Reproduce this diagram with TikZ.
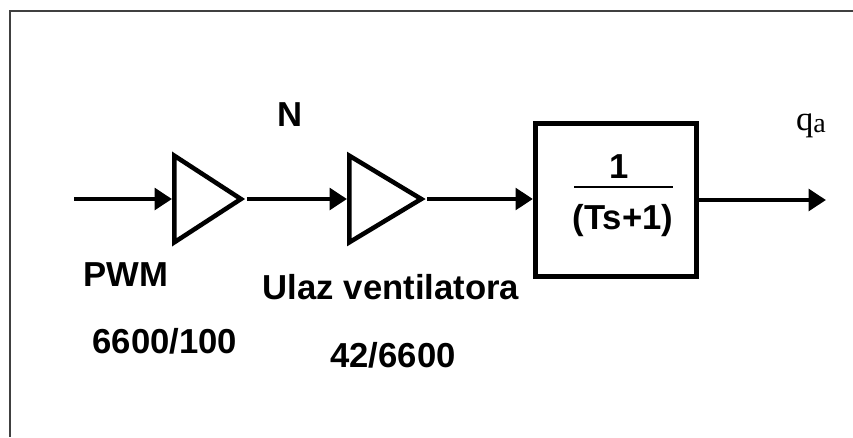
\documentclass[tikz,border=0pt]{standalone}
\usepackage{fontspec}
\setmainfont{Liberation Sans}
\newfontfamily\serifq{Liberation Serif}
\usetikzlibrary{positioning, shapes.geometric, arrows.meta}
\tikzset{
    gain/.style={
        isosceles triangle, isosceles triangle stretches, draw, line width=3.4pt,
        minimum width=65pt, minimum height=50pt, inner sep=0pt,
        anchor=west
    },
    box/.style={
        rectangle, draw, line width=3.6pt,
        minimum width=121pt, minimum height=115pt
    },
    mm/.style={
        line width=3.6pt, -{Triangle[length=13pt, width=16pt]}
    },
    lbl/.style={
        font=\fontsize{26}{31}\selectfont\bfseries, inner sep=0pt
    }
}

\begin{document}
\begin{tikzpicture}[x=0.75pt, y=-0.75pt]
        \useasboundingbox (0,0) rectangle (853,437);
        % \draw[help lines, step=50] (0,0) grid (853,437);

        % Frame
        \draw[line width=1.1pt, black!75] (853,11) -- (10,11) -- (10,437);

        % Gains and transfer function

        \coordinate (in) at (74,199);
        \node[gain] (amp1) at (172,199) {};
        \node[gain, minimum height=54pt] (amp2) at (347,199) {};
        \node[box]  (tf)   at (616,200) {};
        \coordinate (out) at (826,200);

        \path (in) edge[mm] (amp1)
                (amp1) edge[mm] (amp2)
                (amp2) edge[mm] (tf.west |- amp2)
                (tf) edge[mm] (out);

        % Fraction inside the block

        \node[lbl] (num) at (619,167) {1};
        \node[lbl] (den) at (623,221) {(Ts+1)};
        \draw[line width=1.5pt] (574,187) -- (673,187);

        % Signal labels

        \node[lbl] (nsig)   at (290,115) {N};
        \node[lbl] (pwm)    at (126,275) {PWM};
        \node[lbl] (ulaz)   at (391,287) {Ulaz ventilatora};
        \node[lbl] (k1)     at (165,341) {6600/100};
        \node[lbl] (k2)     at (393,355) {42/6600};
        \node[inner sep=0pt] (qa) at (811,126)
            {\serifq\fontsize{26}{30}\selectfont q\raisebox{-1.5pt}{\fontsize{21}{24}\selectfont a}};
\end{tikzpicture}
\end{document}
